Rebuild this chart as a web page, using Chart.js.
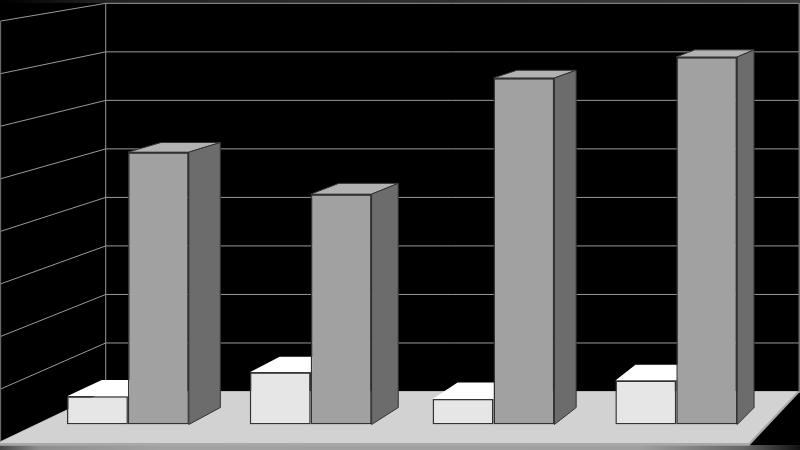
<!DOCTYPE html>
<html>
<head>
<meta charset="utf-8">
<style>
html,body{margin:0;padding:0;background:#000;}
canvas{display:block;}
</style>
<script src="https://cdn.jsdelivr.net/npm/chart.js@4"></script>
</head>
<body>
<canvas id="c" width="800" height="450"></canvas>
<script>
const categories = ["1", "2", "3", "4"];
const seriesLight = [0.55, 1.02, 0.5, 0.86];
const seriesDark = [5.32, 4.5, 6.77, 7.18];
const axisMax = 8;
const axisStep = 1;

// One-point perspective shared by the walls, the floor and the bar depth
const VP = {x: 1365, y: -209};
const T_BACK = 0.0521, T_BAR = 0.0268, T_WALL_FRONT = -0.027, T_FLOOR_TOP = -0.0293, T_FLOOR_EDGE = -0.0335;
const proj = (x, y, t) => [x + t * (VP.x - x), y + t * (VP.y - y)];

function poly(ctx, pts, fill, stroke, lw) {
  ctx.beginPath();
  pts.forEach((p, i) => i ? ctx.lineTo(p[0], p[1]) : ctx.moveTo(p[0], p[1]));
  ctx.closePath();
  if (fill) { ctx.fillStyle = fill; ctx.fill(); }
  if (stroke) { ctx.strokeStyle = stroke; ctx.lineWidth = lw || 1; ctx.stroke(); }
}
function seg(ctx, a, b, color, lw) {
  ctx.beginPath(); ctx.moveTo(a[0], a[1]); ctx.lineTo(b[0], b[1]);
  ctx.strokeStyle = color; ctx.lineWidth = lw || 1; ctx.stroke();
}

const scene = {
  id: 'scene3d',
  beforeDatasetsDraw(chart) {
    const {ctx, chartArea: a, scales: {y}} = chart;
    ctx.save();
    // black ground and frame strips
    ctx.fillStyle = '#000'; ctx.fillRect(0, 0, 800, 450);
    let g = ctx.createLinearGradient(0, 0, 800, 0);
    g.addColorStop(0, '#000'); g.addColorStop(0.13, '#222'); g.addColorStop(1, '#3c3c3c');
    ctx.fillStyle = g; ctx.fillRect(0, 0, 800, 3);
    g = ctx.createLinearGradient(0, 0, 800, 0);
    g.addColorStop(0, '#4a4a4a'); g.addColorStop(0.05, '#8f8f8f'); g.addColorStop(0.2, '#a2a2a2');
    g.addColorStop(0.8, '#a0a0a0'); g.addColorStop(0.93, '#666'); g.addColorStop(1, '#111');
    ctx.fillStyle = g; ctx.fillRect(0, 445, 800, 5);
    ctx.fillStyle = '#6e6e6e'; ctx.fillRect(798.5, 3, 1.5, 390);

    // back wall and left wall grid lines
    const grid = '#9a9a9a';
    y.ticks.forEach(tk => {
      const py = y.getPixelForValue(tk.value);
      const back0 = proj(a.left, py, T_BACK), back1 = proj(a.right, py, T_BACK);
      const front = proj(a.left, py, T_WALL_FRONT);
      seg(ctx, back0, back1, grid);
      seg(ctx, back0, front, grid);
    });
    const top = y.getPixelForValue(axisMax), base = y.getPixelForValue(0);
    seg(ctx, proj(a.left, top, T_BACK), proj(a.left, base, T_BACK), grid);
    seg(ctx, proj(a.left, top, T_WALL_FRONT), proj(a.left, base, T_WALL_FRONT), '#777');

    // floor: edge band, then top surface
    poly(ctx, [proj(a.left, base, T_BACK), proj(a.right + 1.5, base, T_BACK),
               proj(a.right + 1.5, base, T_FLOOR_EDGE), proj(a.left, base, T_FLOOR_EDGE)], '#a8a8a8');
    poly(ctx, [proj(a.left, base, T_BACK), proj(a.right - 1.5, base, T_BACK),
               proj(a.right - 1.5, base, T_FLOOR_TOP), proj(a.left, base, T_FLOOR_TOP)], '#d2d2d2');

    // depth faces of the bars, read from the library's own bar elements
    const edge = '#333333';
    const faces = [
      {meta: chart.getDatasetMeta(0), topFill: '#ffffff', sideFill: '#b8b8b8', edge: null},
      {meta: chart.getDatasetMeta(1), topFill: '#b2b2b2', sideFill: '#6c6c6c', edge}
    ];
    categories.forEach((_, i) => {
      faces.forEach(f => {
        const el = f.meta.data[i];
        const l = el.x - el.width / 2, r = el.x + el.width / 2, t = el.y, b = el.base;
        poly(ctx, [[l, t], [r, t], proj(r, t, T_BAR), proj(l, t, T_BAR)], f.topFill, f.edge);
        poly(ctx, [[r, t], [r, b], proj(r, b, T_BAR), proj(r, t, T_BAR)], f.sideFill, f.edge);
      });
    });
    ctx.restore();
  }
};

new Chart(document.getElementById('c'), {
  type: 'bar',
  data: {
    labels: categories,
    datasets: [
      {label: 'A', data: seriesLight, backgroundColor: '#e6e6e6', borderColor: '#333333', borderWidth: 1.5,
       borderSkipped: false, barPercentage: 1, categoryPercentage: 2 / 3},
      {label: 'B', data: seriesDark, backgroundColor: '#a1a1a1', borderColor: '#333333', borderWidth: 1.5,
       borderSkipped: false, barPercentage: 1, categoryPercentage: 2 / 3}
    ]
  },
  options: {
    responsive: false,
    animation: false,
    devicePixelRatio: 1,
    layout: {padding: {left: 36.5, right: 32.3, top: 15, bottom: 25.5}},
    plugins: {legend: {display: false}, tooltip: {enabled: false}, title: {display: false}},
    scales: {
      x: {display: false},
      y: {display: false, min: 0, max: axisMax, ticks: {stepSize: axisStep}}
    }
  },
  plugins: [scene]
});
</script>
</body>
</html>
